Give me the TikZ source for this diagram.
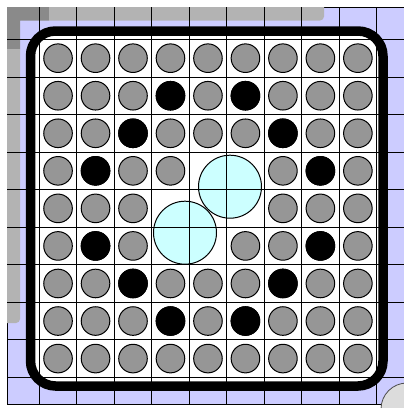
\documentclass[tikz,border=0pt]{standalone}
\begin{document}
\begin{tikzpicture}[x=1pt,y=-1pt,
  gridline/.style={draw=black,line width=0.8pt},
  piece/.style={draw=black,line width=1pt,fill=pieceg},
  blackpiece/.style={draw=black,line width=1pt,fill=black},
  bigdisc/.style={draw=black,line width=1pt,fill=cyanl}]
\definecolor{bgp}{HTML}{CCCCFF}
\definecolor{dkg}{HTML}{8A8A8A}
\definecolor{ltg}{HTML}{B3B3B3}
\definecolor{pieceg}{HTML}{969696}
\definecolor{cyanl}{HTML}{CCFFFF}
\definecolor{cornerg}{HTML}{DCDCDC}
\useasboundingbox (0,0) rectangle (404,408);
\clip (0,0) rectangle (404,408);
% background
\fill[white] (0,0) rectangle (404,408);
\draw[fill=bgp,line width=0.8pt] (7,7) rectangle (420,404);
% gray strips
\fill[dkg] (7,7) -- (49,7) -- (49,20.5) -- (20,20.5) -- (20,49) -- (7,49) -- cycle;
\fill[ltg] (49,7) -- (324,7) -- (324,16.5) arc[start angle=0,end angle=90,radius=4] -- (49,20.5) -- cycle;
\fill[ltg] (7,49) -- (20,49) -- (20,319) arc[start angle=0,end angle=90,radius=4] -- (7,323) -- cycle;
% white board
\fill[white,rounded corners=25pt] (30.5,31) rectangle (383,386);
% big discs
\draw[bigdisc] (230,186.7) circle[radius=31.5];
\draw[bigdisc] (185,232.7) circle[radius=31.5];
% grid lines
\begin{scope}
\clip (7,7) rectangle (420,404);
\foreach \i in {-1,...,10} {
  \draw[gridline] ({39.3+37.48*\i},0) -- ({39.3+37.48*\i},420);
  \draw[gridline] (0,{39.4+37.55*\i}) -- (420,{39.4+37.55*\i});
}
\end{scope}
% black border
\draw[line width=9.5pt,rounded corners=25pt] (30.5,31) rectangle (383,386);
% pieces
\foreach \c in {0,...,8} {
  \foreach \r in {0,...,8} {
    \pgfmathtruncatemacro\cellempty{((\r==3)&&(\c>3)&&(\c<6)) || ((\r==4)&&(\c>2)&&(\c<6)) || ((\r==5)&&(\c>2)&&(\c<5))}
    \ifnum\cellempty=0
      \draw[piece] ({39.3+37.48*(\c+0.5)},{39.4+37.55*(\r+0.5)}) circle[radius=14.3];
    \fi
  }
}
\foreach \c/\r in {3/1,5/1,2/2,6/2,1/3,7/3,1/5,7/5,2/6,6/6,3/7,5/7} {
  \draw[blackpiece] ({39.3+37.48*(\c+0.5)},{39.4+37.55*(\r+0.5)}) circle[radius=14.3];
}
% corner disc
\draw[fill=cornerg,draw=black!70,line width=0.8pt] (407,409) circle[radius=26];
\end{tikzpicture}
\end{document}
